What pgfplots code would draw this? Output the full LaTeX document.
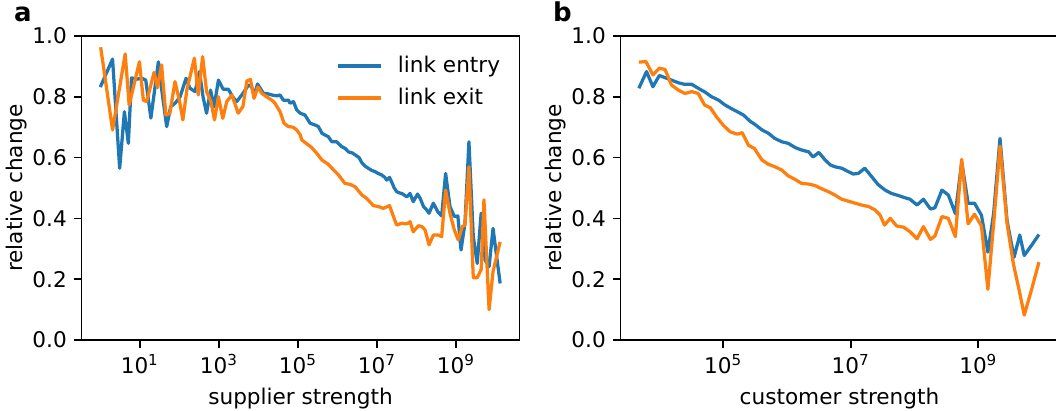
\documentclass[border=0pt]{standalone}
\usepackage{fontspec}
\setmainfont{DejaVu Sans}
\usepackage{pgfplots}
\usepackage{pgfplotstable}
\pgfplotsset{compat=1.18}
\definecolor{tabblue}{HTML}{1F77B4}
\definecolor{taborange}{HTML}{FF7F0E}
\newcommand{\fs}{\fontsize{10.8}{13}\selectfont}

% x = log10(strength), y = relative change
\pgfplotstableread{
x y
0.00 0.832
0.31 0.924
0.49 0.565
0.61 0.751
0.71 0.647
0.79 0.862
0.92 0.858
1.05 0.861
1.15 0.855
1.28 0.730
1.47 0.915
1.55 0.828
1.68 0.702
1.78 0.767
1.90 0.780
2.02 0.800
2.17 0.861
2.27 0.828
2.40 0.817
2.51 0.883
2.60 0.800
2.69 0.746
2.79 0.822
2.88 0.767
2.99 0.855
3.11 0.825
3.24 0.825
3.35 0.800
3.45 0.784
3.61 0.811
3.75 0.839
3.83 0.833
3.90 0.805
3.98 0.842
4.13 0.811
4.21 0.811
4.34 0.806
4.47 0.803
4.55 0.806
4.63 0.789
4.76 0.789
4.80 0.779
4.89 0.784
4.97 0.757
5.06 0.746
5.18 0.740
5.31 0.713
5.44 0.707
5.52 0.702
5.61 0.680
5.69 0.674
5.77 0.669
5.86 0.652
5.98 0.652
6.11 0.636
6.20 0.630
6.28 0.619
6.38 0.615
6.45 0.609
6.55 0.600
6.62 0.583
6.70 0.572
6.78 0.565
6.87 0.558
6.95 0.554
7.03 0.548
7.12 0.543
7.20 0.535
7.25 0.526
7.32 0.535
7.38 0.518
7.44 0.500
7.50 0.488
7.57 0.484
7.63 0.482
7.70 0.476
7.76 0.471
7.84 0.482
7.92 0.455
8.03 0.480
8.10 0.465
8.18 0.439
8.26 0.428
8.32 0.417
8.43 0.450
8.54 0.422
8.64 0.408
8.74 0.548
8.85 0.439
8.96 0.406
9.05 0.408
9.13 0.296
9.23 0.384
9.33 0.652
9.44 0.340
9.54 0.252
9.64 0.417
9.74 0.263
9.84 0.241
9.94 0.367
10.12 0.186
}\aentry

\pgfplotstableread{
x y
0.01 0.963
0.31 0.691
0.63 0.941
0.73 0.773
0.99 0.915
1.09 0.789
1.17 0.784
1.36 0.880
1.45 0.830
1.55 0.905
1.66 0.740
1.76 0.745
1.89 0.850
2.00 0.789
2.09 0.724
2.19 0.822
2.38 0.927
2.48 0.806
2.59 0.932
2.69 0.817
2.80 0.784
2.89 0.724
2.99 0.800
3.10 0.729
3.20 0.784
3.33 0.806
3.49 0.746
3.61 0.768
3.71 0.852
3.80 0.857
3.89 0.795
3.99 0.832
4.09 0.811
4.21 0.800
4.34 0.789
4.42 0.779
4.55 0.751
4.65 0.713
4.76 0.702
4.88 0.700
4.97 0.691
5.06 0.675
5.10 0.658
5.23 0.645
5.35 0.633
5.48 0.614
5.61 0.592
5.77 0.578
5.90 0.560
6.03 0.543
6.19 0.515
6.32 0.512
6.45 0.504
6.62 0.477
6.74 0.466
6.91 0.442
7.04 0.439
7.16 0.433
7.32 0.442
7.42 0.406
7.50 0.378
7.63 0.384
7.76 0.382
7.84 0.389
7.92 0.356
8.05 0.376
8.14 0.373
8.22 0.362
8.32 0.313
8.43 0.345
8.56 0.345
8.64 0.340
8.74 0.493
8.85 0.417
8.96 0.362
9.06 0.329
9.16 0.373
9.23 0.378
9.33 0.570
9.44 0.205
9.54 0.205
9.64 0.232
9.71 0.461
9.84 0.100
9.94 0.225
10.12 0.323
}\aexit

\pgfplotstableread{
x y
3.68 0.828
3.80 0.883
3.90 0.833
4.00 0.870
4.09 0.863
4.19 0.855
4.30 0.846
4.40 0.841
4.51 0.841
4.61 0.828
4.72 0.815
4.82 0.800
4.93 0.789
5.03 0.773
5.14 0.760
5.24 0.749
5.32 0.740
5.42 0.720
5.50 0.709
5.61 0.691
5.71 0.680
5.81 0.663
5.92 0.652
6.02 0.647
6.13 0.633
6.23 0.625
6.34 0.619
6.41 0.602
6.50 0.617
6.60 0.592
6.68 0.576
6.75 0.570
6.86 0.565
6.96 0.554
7.04 0.546
7.12 0.548
7.22 0.565
7.33 0.537
7.43 0.511
7.54 0.493
7.64 0.482
7.75 0.475
7.85 0.468
7.93 0.463
8.04 0.444
8.14 0.463
8.25 0.431
8.32 0.435
8.43 0.493
8.53 0.477
8.64 0.416
8.74 0.585
8.84 0.450
8.94 0.450
9.05 0.410
9.15 0.289
9.24 0.416
9.34 0.663
9.45 0.393
9.56 0.272
9.65 0.345
9.72 0.278
9.84 0.313
9.95 0.347
}\bentry

\pgfplotstableread{
x y
3.68 0.914
3.79 0.916
3.90 0.872
4.00 0.894
4.09 0.890
4.19 0.839
4.30 0.822
4.40 0.811
4.51 0.817
4.61 0.811
4.71 0.773
4.80 0.764
4.90 0.733
5.00 0.707
5.11 0.685
5.22 0.677
5.30 0.682
5.40 0.640
5.49 0.630
5.61 0.592
5.71 0.578
5.81 0.570
5.92 0.559
6.02 0.540
6.13 0.528
6.23 0.515
6.34 0.513
6.44 0.508
6.55 0.497
6.65 0.488
6.75 0.477
6.86 0.463
6.96 0.457
7.07 0.450
7.17 0.444
7.28 0.439
7.38 0.428
7.46 0.411
7.53 0.378
7.62 0.400
7.72 0.375
7.83 0.371
7.93 0.356
8.04 0.333
8.14 0.373
8.25 0.331
8.32 0.342
8.43 0.406
8.53 0.400
8.64 0.340
8.74 0.594
8.84 0.382
8.94 0.414
9.05 0.375
9.15 0.167
9.25 0.406
9.34 0.638
9.45 0.384
9.55 0.250
9.64 0.164
9.72 0.082
9.84 0.170
9.95 0.256
}\bexit

\pgfplotsset{
  myaxis/.style={
    scale only axis, width=219pt, height=152pt,
    anchor=south west,
    ymin=0, ymax=1,
    ytick={0,0.2,0.4,0.6,0.8,1},
    yticklabels={0.0,0.2,0.4,0.6,0.8,1.0},
    tick align=outside, xtick pos=bottom, ytick pos=left,
    major tick length=3.8pt,
    every tick/.style={black, line width=0.87pt},
    axis line style={line width=0.87pt},
    tick label style={font=\fs},
    label style={font=\fs},
    ylabel={relative change},
    ylabel shift=-4pt,
    every axis plot/.append style={line width=1.63pt, line join=round},
  }
}

\begin{document}
\begin{tikzpicture}
\begin{axis}[myaxis,
  at={(40.75pt,35.5pt)},
  xmin=-0.476, xmax=10.61,
  xtick={1,3,5,7,9},
  xticklabels={10\textsuperscript{1},10\textsuperscript{3},10\textsuperscript{5},10\textsuperscript{7},10\textsuperscript{9}},
  xlabel={supplier strength},
  legend style={draw=none, fill=none, at={(rel axis cs:1,1)}, anchor=north east,
    xshift=-5pt, yshift=-6.5pt, font=\fs, row sep=3.2pt, column sep=6pt,
    nodes={inner sep=1.5pt}},
  legend cell align=left,
  legend image code/.code={\draw[#1] (0pt,0pt) -- (21.7pt,0pt);},
]
\addplot[tabblue] table[x=x,y=y] {\aentry};
\addlegendentry{link entry}
\addplot[taborange] table[x=x,y=y] {\aexit};
\addlegendentry{link exit}
\end{axis}

\begin{axis}[myaxis,
  at={(310.25pt,35.5pt)},
  xmin=3.392, xmax=10.257,
  xtick={5,7,9},
  xticklabels={10\textsuperscript{5},10\textsuperscript{7},10\textsuperscript{9}},
  xlabel={customer strength},
]
\addplot[tabblue] table[x=x,y=y] {\bentry};
\addplot[taborange] table[x=x,y=y] {\bexit};
\end{axis}

\node[anchor=base west, font=\fontsize{13}{15}\selectfont\bfseries] at (3.5pt,194.5pt) {a};
\node[anchor=base west, font=\fontsize{13}{15}\selectfont\bfseries] at (273pt,194.5pt) {b};

\pgfresetboundingbox
\useasboundingbox (0,0) rectangle (528pt,205.5pt);
\end{tikzpicture}
\end{document}
